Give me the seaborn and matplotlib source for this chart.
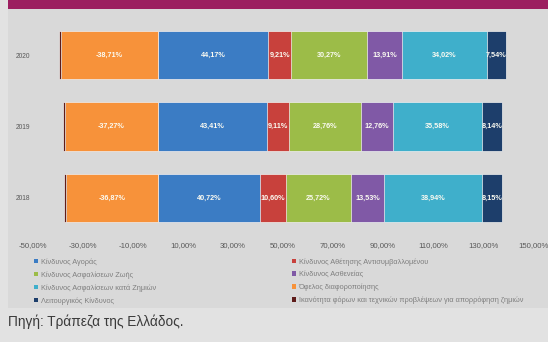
import numpy as np
import pandas as pd
import seaborn as sns
import matplotlib
matplotlib.use("Agg")
import matplotlib.pyplot as plt
from matplotlib.patches import Rectangle, Patch

sns.set_style("white")
plt.rcParams["font.family"] = ["Liberation Sans", "DejaVu Sans"]

# ---- data: composition of the solvency capital requirement (% of SCR) ----
years = ["2020", "2019", "2018"]
market = [44.17, 43.41, 40.72]
counterparty = [9.21, 9.11, 10.60]
life = [30.27, 28.76, 25.72]
health = [13.91, 12.76, 13.53]
nonlife = [34.02, 35.58, 38.94]
diversification = [-38.71, -37.27, -36.87]
operational = [7.54, 8.14, 8.15]
loss_absorbing = [-0.90, -0.60, -0.80]

names = {
    "market": "Κίνδυνος Αγοράς",
    "counterparty": "Κίνδυνος Αθέτησης Αντισυμβαλλομένου",
    "life": "Κίνδυνος Ασφαλίσεων Ζωής",
    "health": "Κίνδυνος Ασθενείας",
    "nonlife": "Κίνδυνος Ασφαλίσεων κατά Ζημιών",
    "diversification": "Όφελος διαφοροποίησης",
    "operational": "Λειτουργικός Κίνδυνος",
    "loss_absorbing": "Ικανότητα φόρων και τεχνικών προβλέψεων για απορρόφηση ζημιών",
}
colors = {
    "market": "#3b7cc4",
    "counterparty": "#c8413c",
    "life": "#9cbc48",
    "health": "#8059a6",
    "nonlife": "#3fafcb",
    "diversification": "#f7923a",
    "operational": "#1d3e6b",
    "loss_absorbing": "#5e1c1a",
}
values = {
    "market": market, "counterparty": counterparty, "life": life,
    "health": health, "nonlife": nonlife, "diversification": diversification,
    "operational": operational, "loss_absorbing": loss_absorbing,
}
positive_stack = ["market", "counterparty", "life", "health", "nonlife", "operational"]
negative_stack = ["diversification", "loss_absorbing"]
labelled = ["market", "counterparty", "life", "health", "nonlife", "operational", "diversification"]

W, H = 548, 342
fig = plt.figure(figsize=(W / 100, H / 100), dpi=100, facecolor="#e2e2e2")

# chart panel and header strip
fig.patches.append(Rectangle((8 / W, 1 - 308 / H), 540 / W, 299 / H,
                             transform=fig.transFigure, facecolor="#d9d9d9",
                             edgecolor="none", zorder=-2))
fig.patches.append(Rectangle((8 / W, 1 - 9 / H), 540 / W, 9 / H,
                             transform=fig.transFigure, facecolor="#9c1f60",
                             edgecolor="none", zorder=-2))

ax = fig.add_axes([33 / W, 1 - 238 / H, 500 / W, 223 / H])
ax.set_facecolor("none")
ax.set_zorder(1)

bar_h = 0.68
centers = {}


def draw_stack(keys):
    cum = np.zeros(len(years))
    ends = []
    for k in keys:
        start = cum.copy()
        cum = cum + np.array(values[k])
        ends.append((k, cum.copy()))
        centers[k] = (start + cum) / 2
    # draw longest cumulative bar first so the shorter ones sit on top
    for k, end in reversed(ends):
        df = pd.DataFrame({"year": years, "end": end})
        sns.barplot(data=df, x="end", y="year", order=years, orient="y",
                    color=colors[k], saturation=1, width=bar_h,
                    edgecolor="#f0f0f0", linewidth=0.5, ax=ax)


draw_stack(positive_stack)
draw_stack(negative_stack)

# value labels inside each segment
for k in labelled:
    for i, v in enumerate(values[k]):
        ax.text(centers[k][i], i, f"{v:.2f}%".replace(".", ","),
                ha="center", va="center", color="#fbfbf2", fontsize=5.2,
                fontweight="bold")

ticks = list(range(-50, 151, 20))
ax.set_xlim(-50, 150)
ax.set_ylim(2.56, -0.56)
ax.set_xticks(ticks)
ax.set_xticklabels([f"{t:.2f}%".replace(".", ",") for t in ticks],
                   fontsize=5.6, color="#595959")
ax.set_yticks(range(len(years)))
ax.set_yticklabels(years, fontsize=4.8, color="#595959")
ax.tick_params(length=0, pad=3)
ax.tick_params(axis="y", pad=2)
ax.set_xlabel("")
ax.set_ylabel("")
for s in ax.spines.values():
    s.set_visible(False)

# legend in two columns, filled row by row
left_col = ["market", "life", "nonlife", "operational"]
right_col = ["counterparty", "health", "diversification", "loss_absorbing"]
for col, x0 in ((left_col, 34), (right_col, 292)):
    handles = [Patch(facecolor=colors[k], edgecolor="none", label=names[k]) for k in col]
    leg = fig.legend(handles=handles, loc="upper left",
                     bbox_to_anchor=(x0 / W, 1 - 258 / H), frameon=False,
                     fontsize=5.3, handlelength=0.6, handleheight=0.6,
                     handletextpad=0.3, labelspacing=0.75, borderpad=0,
                     borderaxespad=0)
    for t in leg.get_texts():
        t.set_color("#7f7f7f")

fig.text(8 / W, 1 - 322 / H, "Πηγή: Τράπεζα της Ελλάδος.", ha="left",
         va="center", fontsize=9.8, color="#3a3a3a")

fig.savefig("out.png", dpi=100, facecolor=fig.get_facecolor())
